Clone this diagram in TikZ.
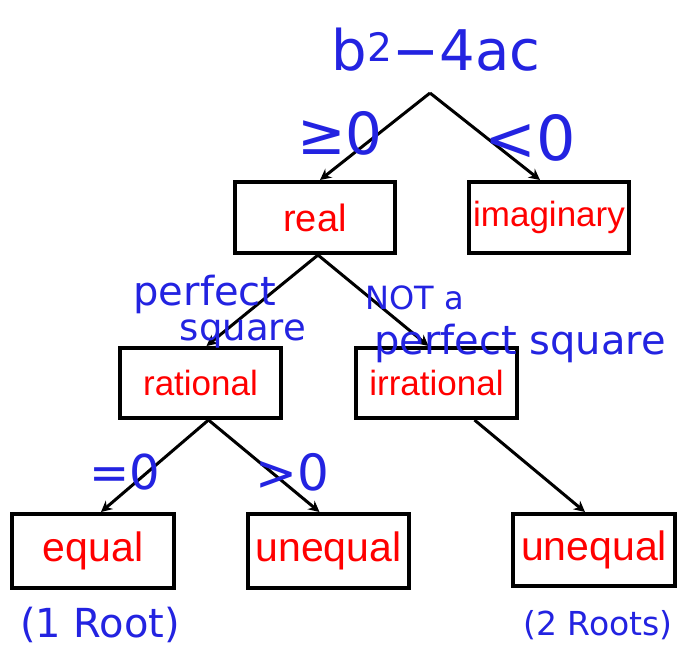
\documentclass[tikz,border=0pt]{standalone}
\usepackage{fontspec}
\setmainfont{Liberation Sans}
\newfontfamily\handfont{DejaVu Sans}
\usetikzlibrary{arrows.meta}
\definecolor{ink}{RGB}{35,35,225}
\definecolor{lbl}{RGB}{255,0,0}
\tikzset{
  box/.style={draw=black, line width=4pt, inner sep=0pt, text=lbl},
  arr/.style={line width=3pt, -{Stealth[length=11pt,width=11pt]}},
  hand/.style={text=ink, inner sep=0pt, font=\handfont\fontsize{#1}{#1}\selectfont},
}
\begin{document}
\begin{tikzpicture}[x=1pt,y=-1pt]
\useasboundingbox (0,0) rectangle (685,664);
\fill[white] (0,0) rectangle (685,664);
% boxes
\node[box, minimum width=160pt, minimum height=71pt, font=\fontsize{38}{40}\selectfont] (real) at (315,217.5) {real};
\node[box, minimum width=160pt, minimum height=71pt, font=\fontsize{35}{37}\selectfont] (imag) at (549,217.5) {imaginary};
\node[box, minimum width=161pt, minimum height=70pt, font=\fontsize{35}{37}\selectfont] (rat) at (200.5,383) {rational};
\node[box, minimum width=161pt, minimum height=70pt, font=\fontsize{35}{37}\selectfont] (irr) at (436.5,383) {irrational};
\node[box, minimum width=162pt, minimum height=74pt, font=\fontsize{41}{43}\selectfont] (eq) at (93,551) {equal};
\node[box, minimum width=161pt, minimum height=74pt, font=\fontsize{41}{43}\selectfont] (uneqa) at (328.5,551) {unequal};
\node[box, minimum width=162pt, minimum height=72pt, font=\fontsize{41}{43}\selectfont] (uneqb) at (594,550) {unequal};
% connectors
\coordinate (apex) at (430,93);
\draw[arr] (apex) -- ([xshift=5pt]real.north);
\draw[arr] (apex) -- ([xshift=-9pt]imag.north);
\draw[arr] ([xshift=3pt]real.south) -- ([xshift=6pt]rat.north);
\draw[arr] ([xshift=3pt]real.south) -- ([xshift=-8pt]irr.north);
\draw[arr] ([xshift=8pt]rat.south) -- ([xshift=8pt]eq.north);
\draw[arr] ([xshift=8pt]rat.south) -- ([xshift=-9pt]uneqa.north);
\draw[arr] ([xshift=38pt]irr.south) -- ([xshift=-9pt]uneqb.north);
% handwritten notes
\node[hand=56] (disc) at (436,50) {b\textsuperscript{2}−4ac};
\node[hand=58] (ge) at (340,133) {≥0};
\node[hand=62] (lt) at (530,138) {<0};
\node[hand=40] (perf1) at (205,294) {perfect};
\node[hand=37] (perf2) at (243,334) {square};
\node[hand=32] (nota) at (415,298) {NOT a};
\node[hand=40] (perf3) at (520,343) {perfect square};
\node[hand=48] (eqz) at (125,472) {=0};
\node[hand=50] (gtz) at (292,472) {>0};
\node[hand=40] (oneroot) at (100,625) {(1 Root)};
\node[hand=33, anchor=west] (tworoots) at (523,625) {(2 Roots)};
\end{tikzpicture}
\end{document}
